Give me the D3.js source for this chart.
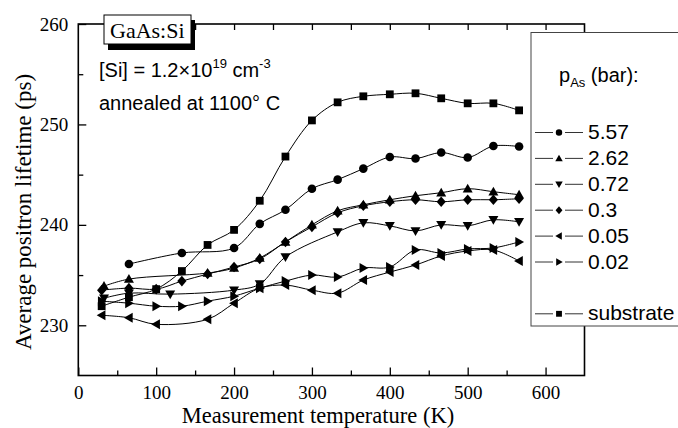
<!DOCTYPE html>
<html lang="en">
<head>
<meta charset="UTF-8">
<title>Average positron lifetime vs temperature</title>
<script src="https://d3js.org/d3.v7.min.js"></script>
<style>
    body { margin: 0; background: #fff; }
    .serif { font-family: "Liberation Serif", "Times New Roman", serif; }
    .sans { font-family: "Liberation Sans", Arial, sans-serif; }
</style>
</head>
<body>
<svg width="678" height="428"></svg>
<script>
// data (temperature in K, lifetime in ps)
const subT = [30, 65, 100, 133, 166, 200, 233, 266, 300, 333, 366, 400, 433, 466, 500, 533, 566];
const subV = [231.9, 232.8, 233.6, 235.4, 238.0, 239.5, 242.4, 246.8, 250.4, 252.2, 252.8, 253.0, 253.1, 252.6, 252.1, 252.1, 251.4];

const p557T = [65, 133, 200, 233, 266, 300, 333, 366, 400, 433, 466, 500, 533, 566];
const p557V = [236.1, 237.2, 237.7, 240.1, 241.5, 243.6, 244.5, 245.6, 246.75, 246.6, 247.2, 246.7, 247.85, 247.8];

const p262T = [33, 65, 166, 200, 233, 266, 300, 333, 366, 400, 433, 466, 500, 533, 566];
const p262V = [233.9, 234.6, 235.2, 235.7, 236.7, 238.3, 240.0, 241.4, 242.0, 242.5, 242.9, 243.2, 243.6, 243.3, 243.0];

const p072T = [33, 65, 118, 200, 233, 266, 333, 366, 400, 433, 466, 500, 533, 566];
const p072V = [232.7, 233.2, 233.1, 233.5, 234.1, 236.8, 239.3, 240.2, 239.9, 239.4, 240.0, 239.9, 240.5, 240.3];

const p03T = [30, 65, 100, 133, 166, 200, 233, 266, 300, 333, 366, 400, 433, 466, 500, 533, 566];
const p03V = [233.5, 233.7, 233.6, 234.4, 235.1, 235.8, 236.6, 238.3, 239.8, 241.2, 241.9, 242.3, 242.5, 242.3, 242.5, 242.5, 242.6];

const p005T = [30, 65, 100, 166, 200, 233, 266, 300, 333, 366, 400, 433, 466, 500, 533, 566];
const p005V = [231.0, 230.75, 230.1, 230.6, 232.2, 233.7, 234.0, 233.5, 233.2, 234.5, 235.3, 236.0, 236.9, 237.4, 237.5, 236.4];

const p002T = [30, 65, 100, 133, 166, 200, 233, 266, 300, 333, 366, 400, 433, 466, 500, 533, 566];
const p002V = [232.4, 232.2, 231.9, 231.9, 232.4, 232.9, 233.7, 234.4, 235.0, 234.8, 235.7, 235.8, 237.5, 237.2, 237.6, 237.7, 238.3];

const legendLabels = ["5.57", "2.62", "0.72", "0.3", "0.05", "0.02", "", "substrate"];
const xTicks = [0, 100, 200, 300, 400, 500, 600];
const yTicks = [230, 240, 250, 260];

// custom marker shapes, size = half width
const shape = {
    circle: { draw(c, r) { c.moveTo(r, 0); c.arc(0, 0, r, 0, 2 * Math.PI); } },
    square: { draw(c, r) { c.rect(-r, -r, 2 * r, 2 * r); } },
    up: { draw(c, r) { c.moveTo(0, -r); c.lineTo(r, 0.75 * r); c.lineTo(-r, 0.75 * r); c.closePath(); } },
    down: { draw(c, r) { c.moveTo(0, r); c.lineTo(r, -0.75 * r); c.lineTo(-r, -0.75 * r); c.closePath(); } },
    left: { draw(c, r) { c.moveTo(-r, 0); c.lineTo(0.75 * r, -r); c.lineTo(0.75 * r, r); c.closePath(); } },
    right: { draw(c, r) { c.moveTo(r, 0); c.lineTo(-0.75 * r, -r); c.lineTo(-0.75 * r, r); c.closePath(); } },
    diamond: { draw(c, r) { c.moveTo(0, -1.15 * r); c.lineTo(r, 0); c.lineTo(0, 1.15 * r); c.lineTo(-r, 0); c.closePath(); } }
};

const series = [
    { t: p557T, v: p557V, sym: "circle", r: 4.3 },
    { t: p262T, v: p262V, sym: "up", r: 5 },
    { t: p072T, v: p072V, sym: "down", r: 5 },
    { t: p03T, v: p03V, sym: "diamond", r: 4.6 },
    { t: p005T, v: p005V, sym: "left", r: 5 },
    { t: p002T, v: p002V, sym: "right", r: 5 },
    null,
    { t: subT, v: subV, sym: "square", r: 3.9 }
];

const svg = d3.select("svg");
const x = d3.scaleLinear().domain([0, 650]).range([78.3, 584.5]);
const y = d3.scaleLinear().domain([225, 260]).range([375.5, 24]);

// ticks: major and minor, all pointing inward
function ticks(axisFn, pos, vals, len, labels) {
    const g = svg.append("g").attr("transform", pos)
        .call(axisFn.tickValues(vals).tickSizeInner(-len).tickSizeOuter(0).tickPadding(10)
            .tickFormat(labels ? d3.format("d") : ""));
    g.select(".domain").remove();
    g.selectAll("line").attr("stroke", "#000").attr("stroke-width", 1.3);
    g.selectAll("text").attr("class", "serif").attr("font-size", 19).attr("fill", "#000");
    return g;
}
ticks(d3.axisBottom(x), `translate(0,${y(225)})`, xTicks, 8, true);
ticks(d3.axisBottom(x), `translate(0,${y(225)})`, d3.range(50, 650, 100), 5, false);
ticks(d3.axisTop(x), `translate(0,${y(260)})`, d3.range(50, 650, 50), 6, false);
ticks(d3.axisLeft(y), `translate(${x(0)},0)`, yTicks, 8, true);
ticks(d3.axisLeft(y), `translate(${x(0)},0)`, [235, 245, 255], 5, false);

// frame
svg.append("rect")
    .attr("x", x(0)).attr("y", y(260))
    .attr("width", x(650) - x(0)).attr("height", y(225) - y(260))
    .attr("fill", "none").attr("stroke", "#000").attr("stroke-width", 1.6);

// curves and markers
const line = d3.line().x(d => x(d[0])).y(d => y(d[1])).curve(d3.curveCatmullRom.alpha(0.5));
series.forEach(s => {
    if (!s) return;
    const pts = s.t.map((t, i) => [t, s.v[i]]);
    svg.append("path").datum(pts).attr("d", line)
        .attr("fill", "none").attr("stroke", "#000").attr("stroke-width", 1);
    svg.append("g").selectAll("path").data(pts).join("path")
        .attr("transform", d => `translate(${x(d[0])},${y(d[1])})`)
        .attr("d", d3.symbol().type(shape[s.sym]).size(s.r))
        .attr("fill", "#000");
});

// GaAs:Si label box with shadow
svg.append("rect").attr("x", 108).attr("y", 20).attr("width", 87).attr("height", 30).attr("fill", "#000");
svg.append("rect").attr("x", 104).attr("y", 15).attr("width", 87).attr("height", 29)
    .attr("fill", "#fff").attr("stroke", "#000").attr("stroke-width", 1);
svg.append("text").attr("class", "serif").attr("x", 110).attr("y", 38)
    .attr("font-size", 22).text("GaAs:Si");

const info = svg.append("text").attr("class", "sans").attr("x", 99).attr("y", 77).attr("font-size", 20);
info.append("tspan").text("[Si] = 1.2×10");
info.append("tspan").attr("dy", -9).attr("font-size", 13).text("19");
info.append("tspan").attr("dy", 9).text(" cm");
info.append("tspan").attr("dy", -9).attr("font-size", 13).text("-3");
svg.append("text").attr("class", "sans").attr("x", 99).attr("y", 110).attr("font-size", 20)
    .text("annealed at 1100° C");

// axis titles
svg.append("text").attr("class", "serif").attr("font-size", 22.5)
    .attr("text-anchor", "middle").attr("x", 318).attr("y", 423)
    .text("Measurement temperature (K)");
svg.append("text").attr("class", "serif").attr("font-size", 23)
    .attr("text-anchor", "middle")
    .attr("transform", "translate(31,212) rotate(-90)")
    .text("Average positron lifetime (ps)");

// legend
const lg = svg.append("g");
lg.append("rect").attr("x", 531).attr("y", 32.5).attr("width", 160).attr("height", 293.5)
    .attr("fill", "#fff").attr("stroke", "#444").attr("stroke-width", 1);
const title = lg.append("text").attr("class", "sans").attr("x", 559).attr("y", 82).attr("font-size", 20);
title.append("tspan").text("p");
title.append("tspan").attr("dy", 5).attr("font-size", 13).text("As");
title.append("tspan").attr("dy", -5).text(" (bar):");

series.forEach((s, i) => {
    if (!s) return;
    const by = 139 + i * 25.9;
    const cy = by - 6.5;
    [[535, 553], [565, 583]].forEach(([a, b]) => {
        lg.append("line").attr("x1", a).attr("x2", b).attr("y1", cy).attr("y2", cy)
            .attr("stroke", "#333").attr("stroke-width", 1);
    });
    lg.append("path").attr("transform", `translate(559,${cy})`)
        .attr("d", d3.symbol().type(shape[s.sym]).size(s.r * 0.75))
        .attr("fill", "#000");
    lg.append("text").attr("class", "sans").attr("x", 588).attr("y", by)
        .attr("font-size", 21).text(legendLabels[i]);
});
</script>
</body>
</html>
